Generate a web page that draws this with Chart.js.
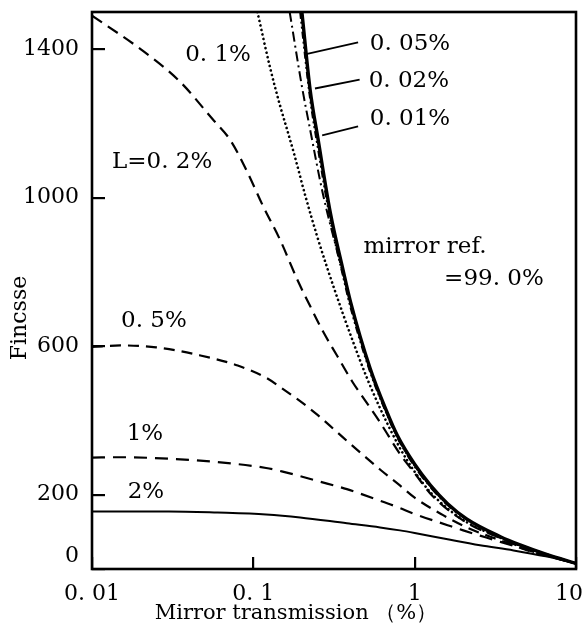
<!DOCTYPE html>
<html><head><meta charset="utf-8">
<script src="https://cdn.jsdelivr.net/npm/chart.js@4.4.0/dist/chart.umd.min.js"></script>
<style>html,body{margin:0;padding:0;background:#fff;}canvas{display:block;}</style>
</head><body>
<canvas id="c" width="584" height="637"></canvas>
<script>
// ---- axes ----
const xTicks = [0.01, 0.1, 1, 10];
const xTickLabels = ['0. 01', '0. 1', '1', '10  '];
const yTicks = [0, 200, 600, 1000, 1400];
const yTickLabels = [['0', ''], '200', '600', '1000', '1400'];
const xTitle = 'Mirror transmission\u00A0（%）';
const yTitle = 'Fincsse';

// ---- series: mirror transmission (%) and finesse, per loss L ----
const tL001 = [0.2,0.225,0.252,0.3,0.36,0.4,0.53,0.67,0.78,1.0,1.25,1.6,2.1,3.4,4.5,6.5,10];
const fL001 = [1500,1290,1157,960,805,720,540,425,360,282,226,176,135,87,65,40,15];
const tL002 = [0.195,0.225,0.252,0.3,0.36,0.4,0.53,0.67,0.78,1.0,1.25,1.6,2.1,3.4,4.5,6.5,10];
const fL002 = [1500,1265,1130,940,788,705,530,418,354,278,223,174,134,86,65,40,15];
const tL005 = [0.168,0.2,0.225,0.27,0.345,0.42,0.53,0.67,0.78,1.0,1.25,1.6,2.1,3.4,4.5,6.5,10];
const fL005 = [1500,1300,1183,1010,826,685,535,420,356,276,221,172,133,86,64,40,15];
const tL01 = [0.106,0.127,0.147,0.162,0.181,0.21,0.247,0.285,0.36,0.415,0.5,0.6,0.8,1.0,1.25,1.6,2.1,3.4,4.5,6.5,10];
const fL01 = [1500,1350,1245,1183,1110,1005,900,815,686,612,520,440,330,262,207,163,126,84,63,40,15];
const tL02 = [0.01,0.02,0.035,0.056,0.072,0.092,0.115,0.147,0.187,0.225,0.27,0.33,0.41,0.5,0.61,0.81,1.0,1.3,2.1,3.4,5,10];
const fL02 = [1490,1400,1313,1211,1155,1068,977,885,780,708,640,575,505,450,395,310,258,195,125,83,52,15];
const tL05 = [0.01,0.015,0.025,0.047,0.08,0.12,0.15,0.195,0.25,0.38,0.5,0.61,0.81,1.0,1.5,2.1,3.4,5,10];
const fL05 = [598,602,597,575,548,515,487,452,415,345,300,268,225,192,145,112,77,50,15];
const tL1 = [0.01,0.015,0.03,0.06,0.12,0.15,0.195,0.25,0.38,0.61,0.78,1.0,1.6,2.0,2.54,3.4,5,10];
const fL1 = [300,301,297,288,272,263,250,237,215,184,167,148,118,104,90,73,52,15];
const tL2 = [0.01,0.03,0.06,0.12,0.195,0.38,0.61,0.81,1.0,1.6,2.54,4.1,6.5,10];
const fL2 = [155,155,152,147,139,123,112,104,97,80,64,50,34,15];

// ---- in-plot labels (data coordinates) ----
const notes = [
  {text:'0. 1%', x:0.0604, y:1385},
  {text:'L=0. 2%', x:0.0272, y:1095},
  {text:'0. 5%', x:0.0242, y:667},
  {text:'1%', x:0.0213, y:363},
  {text:'2%', x:0.0216, y:207},
  {text:'0. 05%', x:0.936, y:1415},
  {text:'0. 02%', x:0.92, y:1313},
  {text:'0. 01%', x:0.936, y:1211},
  {text:'mirror ref.', x:1.159, y:866},
  {text:'=99. 0%', x:3.1, y:780}
];
const leaders = [
  [0.446,1418, 0.209,1386],
  [0.456,1318, 0.241,1294],
  [0.446,1192, 0.267,1168]
];

function pts(t, f){ return t.map((v,i)=>({x:v, y:f[i]})); }
function ds(label, t, f, dash, w, cap){
  return {label, data:pts(t,f), borderColor:'#000', backgroundColor:'#000', borderWidth:w,
    borderDash:dash, borderCapStyle:cap||'butt', pointRadius:0, fill:false,
    cubicInterpolationMode:'monotone'};
}

const FONT = '"DejaVu Serif", "Liberation Serif", serif';

const decor = {
  id:'decor',
  beforeDraw(chart){
    const {ctx,width,height} = chart;
    ctx.save(); ctx.fillStyle='#fff'; ctx.fillRect(0,0,width,height); ctx.restore();
  },
  afterDraw(chart){
    const {ctx, chartArea:a, scales:{x,y}} = chart;
    ctx.save();
    ctx.strokeStyle='#000'; ctx.lineWidth=2.6;
    ctx.strokeRect(a.left, a.top, a.right-a.left, a.bottom-a.top);
    ctx.lineWidth=1.8;
    leaders.forEach(l=>{
      ctx.beginPath();
      ctx.moveTo(x.getPixelForValue(l[0]), y.getPixelForValue(l[1]));
      ctx.lineTo(x.getPixelForValue(l[2]), y.getPixelForValue(l[3]));
      ctx.stroke();
    });
    ctx.fillStyle='#000'; ctx.textAlign='center'; ctx.textBaseline='middle';
    ctx.font='23px '+FONT;
    notes.forEach(n=>ctx.fillText(n.text, x.getPixelForValue(n.x), y.getPixelForValue(n.y)));
    ctx.font='21px '+FONT;
    ctx.fillText(xTitle, 296, 614);
    ctx.translate(20, 318); ctx.rotate(-Math.PI/2);
    ctx.font='22px '+FONT;
    ctx.fillText(yTitle, 0, 0);
    ctx.restore();
  }
};

new Chart(document.getElementById('c'), {
  type:'line',
  data:{ datasets:[
    ds('L=0.2%', tL02, fL02, [12,7], 2.2),
    ds('0.5%', tL05, fL05, [11,7], 2.2),
    ds('1%', tL1, fL1, [13,8], 2.2),
    ds('2%', tL2, fL2, [], 2),
    ds('0.1%', tL01, fL01, [0.1,4.5], 2.6, 'round'),
    ds('0.05%', tL005, fL005, [10,4,2,4], 2),
    ds('0.02%', tL002, fL002, [7,3,2,3,2,3], 2),
    ds('0.01%', tL001, fL001, [], 3.4)
  ]},
  options:{
    responsive:false, animation:false, devicePixelRatio:1,
    layout:{padding:{top:12, right:8, left:0, bottom:0}},
    plugins:{legend:{display:false}, tooltip:{enabled:false}},
    scales:{
      x:{
        type:'logarithmic', min:0.01, max:10,
        afterBuildTicks:s=>{ s.ticks = xTicks.map(v=>({value:v})); },
        afterFit:s=>{ s.height=68; s.paddingLeft=0; s.paddingRight=0; },
        ticks:{ autoSkip:false, maxRotation:0, padding:24, color:'#000',
          font:{family:FONT, size:22},
          callback:(v,i)=>xTickLabels[i] },
        grid:{ display:true, drawOnChartArea:false, drawTicks:true, tickLength:-12, color:'#000', lineWidth:2.2 },
        border:{display:false},
        title:{display:false}
      },
      y:{
        type:'linear', min:0, max:1500,
        afterBuildTicks:s=>{ s.ticks = yTicks.map(v=>({value:v})); },
        afterFit:s=>{ s.width=92; s.paddingTop=0; s.paddingBottom=0; },
        ticks:{ autoSkip:false, padding:26, color:'#000',
          font:{family:FONT, size:22},
          callback:(v,i)=>yTickLabels[i] },
        grid:{ display:true, drawOnChartArea:false, drawTicks:true, tickLength:-13, color:'#000', lineWidth:2.2 },
        border:{display:false},
        title:{display:false}
      }
    }
  },
  plugins:[decor]
});
</script>
</body></html>
